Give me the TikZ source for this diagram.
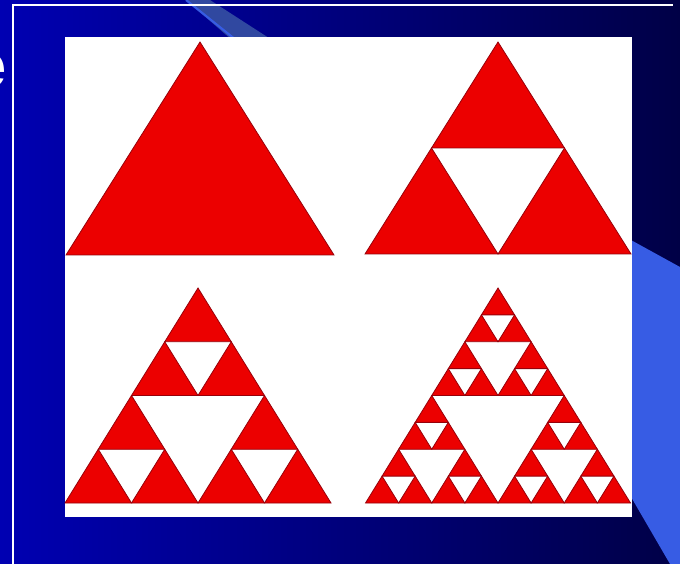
\documentclass[tikz,border=0pt]{standalone}
\usepackage{fontspec}
\setmainfont{Liberation Sans}
\usepackage{tikz}
\usepackage{xcolor}

\definecolor{bgleft}{RGB}{0,0,178}
\definecolor{bgright}{RGB}{0,0,70}
\definecolor{skyblue}{RGB}{55,92,228}
\definecolor{bandblue}{RGB}{48,72,160}
\definecolor{sred}{RGB}{236,0,0}
\definecolor{sdark}{RGB}{150,0,10}

\tikzset{
    tri/.style={fill=sred, draw=sdark, line width=0.45pt, line join=miter},
    frameline/.style={white, line width=0.9pt}
}

\begin{document}
\begin{tikzpicture}[x=0.02cm, y=-0.02cm]
    \useasboundingbox (0,0) rectangle (680,564);
    \clip (0,0) rectangle (680,564);

    % Slide background
    \shade[left color=bgleft, right color=bgright] (0,0) rectangle (680,564);

    % Light stripe at the top
    \fill[bandblue] (186,0) -- (210,0) -- (272,40) -- (232,40) -- cycle;
    \draw[skyblue, line width=1.2pt] (186,0) -- (236,40);

    % Large light shape at the right
    \fill[skyblue] (620,234) -- (680,267) -- (680,564) -- (670,564) -- (620,478) -- cycle;

    % Frame lines
    \draw[frameline] (13,564) -- (13,5) -- (673,5);

    % Cut-off title letter
    \node[anchor=base east, inner sep=0pt, text=white,
          font=\fontsize{36}{40}\selectfont\bfseries] (title) at (7,88) {e};

    % Picture area
    \fill[white] (65,37) rectangle (632,517);

    % Stage 0
    \filldraw[tri] (200,42) -- ++(-134,213) -- ++(268,0) -- cycle;

    % Stage 1
    \foreach \u/\v in {0/0, -1/1, 1/1} {
        \filldraw[tri] ({498+\u*266/4},{42+\v*212/2}) -- ++(-266/4,212/2) -- ++(266/2,0) -- cycle;
    }

    % Stage 2
    \foreach \u/\v in {0/0, -1/1, 1/1} {
        \foreach \p/\q in {0/0, -1/1, 1/1} {
            \filldraw[tri] ({198+\u*266/4+\p*266/8},{288+\v*215/2+\q*215/4})
                -- ++(-266/8,215/4) -- ++(266/4,0) -- cycle;
        }
    }

    % Stage 3
    \foreach \u/\v in {0/0, -1/1, 1/1} {
        \foreach \p/\q in {0/0, -1/1, 1/1} {
            \foreach \r/\s in {0/0, -1/1, 1/1} {
                \filldraw[tri] ({498+\u*265/4+\p*265/8+\r*265/16},{288+\v*215/2+\q*215/4+\s*215/8})
                    -- ++(-265/16,215/8) -- ++(265/8,0) -- cycle;
            }
        }
    }
\end{tikzpicture}
\end{document}
